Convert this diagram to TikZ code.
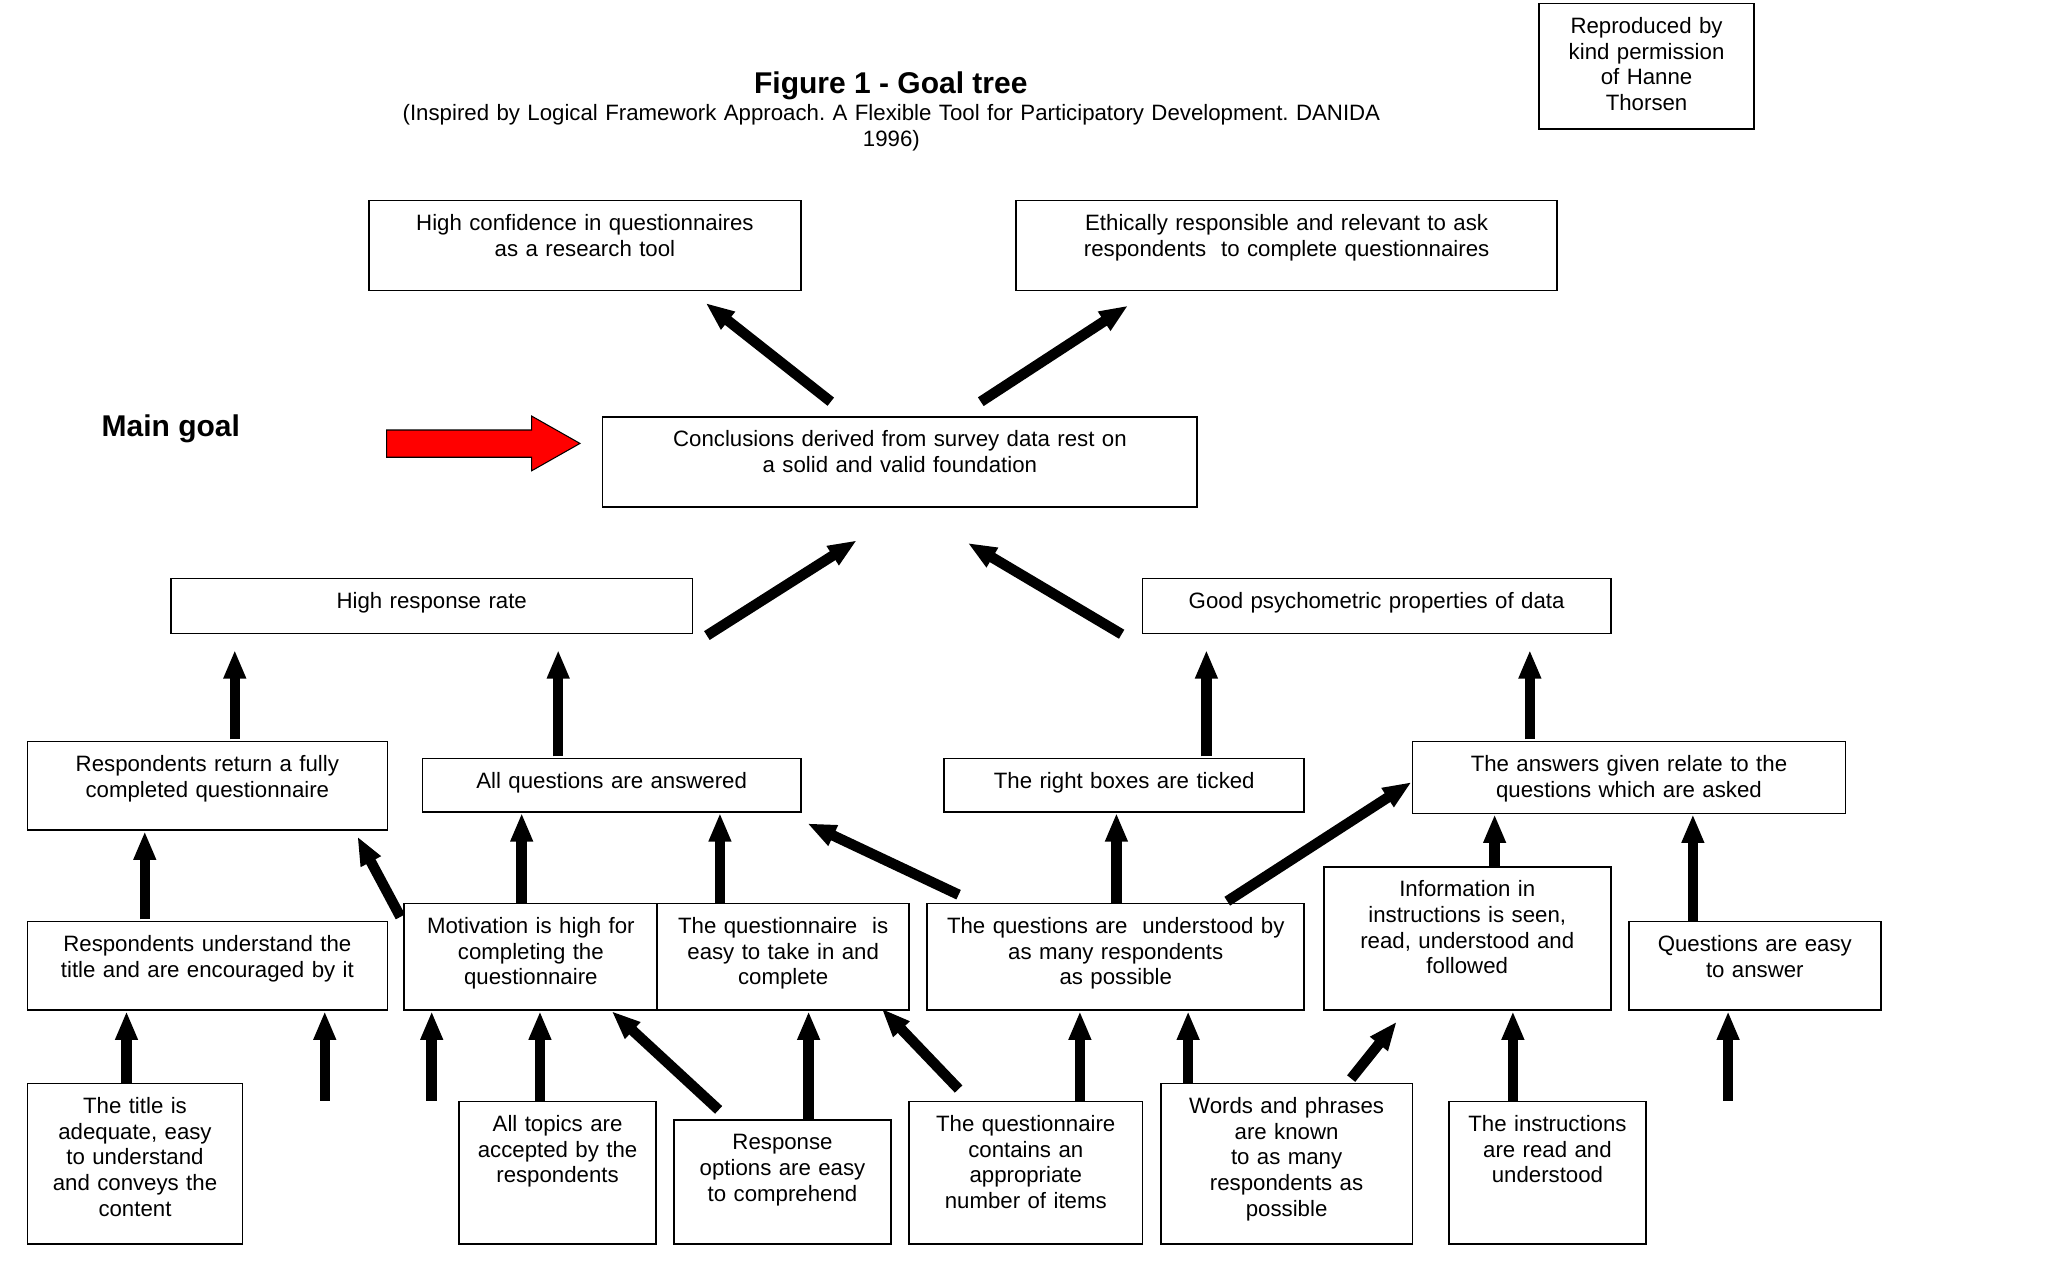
\documentclass[tikz,border=0pt]{standalone}
\usepackage{fontspec}
\setmainfont{Liberation Sans}
\usepackage{tikz}
\usetikzlibrary{arrows.meta}
\frenchspacing
\newcommand\boxfont{\fontsize{17.05}{19.7}\selectfont}
\newcommand\headfont{\bfseries\fontsize{23}{27}\selectfont}
\tikzstyle{goal}=[draw=black, line width=1.3pt, anchor=north, inner sep=0pt, align=center, text height=23pt, font=\boxfont]
\tikzstyle{push}=[line width=8pt, -{Triangle[length=22pt,width=16pt]}]
\begin{document}
\begin{tikzpicture}[x=1pt,y=-1pt]
    \fill[white] (0,0) rectangle (1568,973.7);
    \useasboundingbox (0,0) rectangle (1568,973.7);
    \node[font=\headfont, anchor=base] at (683,72) (fig) {Figure 1 - Goal tree};
    \node[font=\boxfont, anchor=base, align=center, text width=900pt] at (683.5,92.5) (src) {(Inspired by Logical Framework Approach. A Flexible Tool for Participatory Development. DANIDA\\1996)};
    \node[font=\headfont, anchor=base] at (131,335) (maingoal) {Main goal};
    \node[goal, text width=165pt, text depth=73pt] at (1262.5,2) (perm) {Reproduced by\\kind permission\\of Hanne\\Thorsen};
    \node[goal, text width=331pt, text depth=46pt] at (448.5,153) (conf) {High confidence in questionnaires\\as a research tool};
    \node[goal, text width=415pt, text depth=46pt] at (986.5,153) (ethic) {Ethically responsible and relevant to ask\\respondents\ \ to complete questionnaires};
    \node[goal, text width=456pt, text depth=46pt] at (690,319) (main) {Conclusions derived from survey data rest on\\a solid and valid foundation};
    \node[goal, text width=400pt, text depth=19pt] at (331,443) (hrr) {High response rate};
    \node[goal, text width=359pt, text depth=19pt] at (1055.5,443) (psy) {Good psychometric properties of data};
    \node[goal, text width=276pt, text depth=45pt] at (159,568) (ret) {Respondents return a fully\\completed questionnaire};
    \node[goal, text width=290pt, text depth=18pt] at (469,581) (allq) {All questions are answered};
    \node[goal, text width=276pt, text depth=18pt] at (862,581) (tick) {The right boxes are ticked};
    \node[goal, text width=332pt, text depth=32pt] at (1249,568) (ans) {The answers given relate to the\\questions which are asked};
    \node[goal, text width=276pt, text depth=45pt] at (159,706) (tit) {Respondents understand the\\title and are encouraged by it};
    \node[goal, text width=194pt, text depth=59pt] at (407,692) (mot) {Motivation is high for\\completing the\\questionnaire};
    \node[goal, text width=193pt, text depth=59pt] at (600.5,692) (easy) {The questionnaire\ \ is\\easy to take in and\\complete};
    \node[goal, text width=289pt, text depth=59pt] at (855.5,692) (und) {The questions are\ \ understood by\\as many respondents\\as possible};
    \node[goal, text width=220pt, text depth=87pt] at (1125,664) (info) {Information in\\instructions is seen,\\read, understood and\\followed};
    \node[goal, text width=193pt, text depth=45pt] at (1345.5,706) (qeasy) {Questions are easy\\to answer};
    \node[goal, text width=165pt, text depth=100pt] at (103.5,830) (adeq) {The title is\\adequate, easy\\to understand\\and conveys the\\content};
    \node[goal, text width=151pt, text depth=86pt] at (427.5,844) (topics) {All topics are\\accepted by the\\respondents};
    \node[goal, text width=166pt, text depth=72pt] at (600,858) (resp) {Response\\options are easy\\to comprehend};
    \node[goal, text width=179pt, text depth=86pt] at (786.5,844) (items) {The questionnaire\\contains an\\appropriate\\number of items};
    \node[goal, text width=193pt, text depth=100pt] at (986.5,830) (words) {Words and phrases\\are known\\to as many\\respondents as\\possible};
    \node[goal, text width=151pt, text depth=86pt] at (1186.5,844) (instr) {The instructions\\are read and\\understood};
    \coordinate (f1) at (249,844);
    \coordinate (f2) at (331,844);
    \coordinate (f3) at (1325,844);
    \draw[fill=red, line width=0.8pt] (296.5,329.7) -- (407.6,329.7) -- (407.6,319) -- (444.7,340) -- (407.6,361) -- (407.6,350.6) -- (296.5,350.6) -- cycle;
    \draw[push] ([shift={(-53,-11)}]main.north) to ([shift={(92.5,9)}]conf.south);
    \draw[push] ([shift={(62,-11)}]main.north) to ([shift={(-121.5,11)}]ethic.south);
    \draw[push] ([shift={(211,1)}]hrr.south) to ([shift={(-33,25)}]main.south);
    \draw[push] ([shift={(-195.5,0)}]psy.south) to ([shift={(52,27)}]main.south);
    \draw[push] ([shift={(21,-1)}]ret.north) to ([shift={(-151,12)}]hrr.south);
    \draw[push] ([shift={(-41,-1)}]allq.north) to ([shift={(97,12)}]hrr.south);
    \draw[push] ([shift={(63,-1)}]tick.north) to ([shift={(-130.5,12)}]psy.south);
    \draw[push] ([shift={(-76,-1)}]ans.north) to ([shift={(117.5,12)}]psy.south);
    \draw[push] ([shift={(-48,-1)}]tit.north) to ([shift={(-48,0)}]ret.south);
    \draw[push] ([shift={(-100,11)}]mot.north) to ([shift={(115,4)}]ret.south);
    \draw[push] ([shift={(-7,0)}]mot.north) to ([shift={(-69,0)}]allq.south);
    \draw[push] ([shift={(-48.5,0)}]easy.north) to ([shift={(83,0)}]allq.south);
    \draw[push] ([shift={(-120.5,-6)}]und.north) to ([shift={(150,8)}]allq.south);
    \draw[push] ([shift={(0.5,0)}]und.north) to ([shift={(-6,0)}]tick.south);
    \draw[push] ([shift={(85.5,-1)}]und.north) to ([shift={(0,3.5)}]ans.west);
    \draw[push] ([shift={(21,0)}]info.north) to ([shift={(-103,0)}]ans.south);
    \draw[push] ([shift={(-47.5,0)}]qeasy.north) to ([shift={(49,0)}]ans.south);
    \draw[push] ([shift={(-6.5,0)}]adeq.north) to ([shift={(-62,0)}]tit.south);
    \draw[push] (f1) to ([shift={(90,0)}]tit.south);
    \draw[push] (f2) to ([shift={(-76,0)}]mot.south);
    \draw[push] ([shift={(-13.5,0)}]topics.north) to ([shift={(7,0)}]mot.south);
    \draw[push] ([shift={(-49,-7)}]resp.north) to ([shift={(62,0)}]mot.south);
    \draw[push] ([shift={(20,0)}]resp.north) to ([shift={(19.5,0)}]easy.south);
    \draw[push] ([shift={(-51.5,-9)}]items.north) to ([shift={(75.5,-2)}]easy.south);
    \draw[push] ([shift={(41.5,0)}]items.north) to ([shift={(-27.5,0)}]und.south);
    \draw[push] ([shift={(-75.5,0)}]words.north) to ([shift={(55.5,0)}]und.south);
    \draw[push] ([shift={(49.5,-3)}]words.north) to ([shift={(-54,8)}]info.south);
    \draw[push] ([shift={(-26.5,0)}]instr.north) to ([shift={(35,0)}]info.south);
    \draw[push] (f3) to ([shift={(-20.5,0)}]qeasy.south);
  \end{tikzpicture}
\end{document}
